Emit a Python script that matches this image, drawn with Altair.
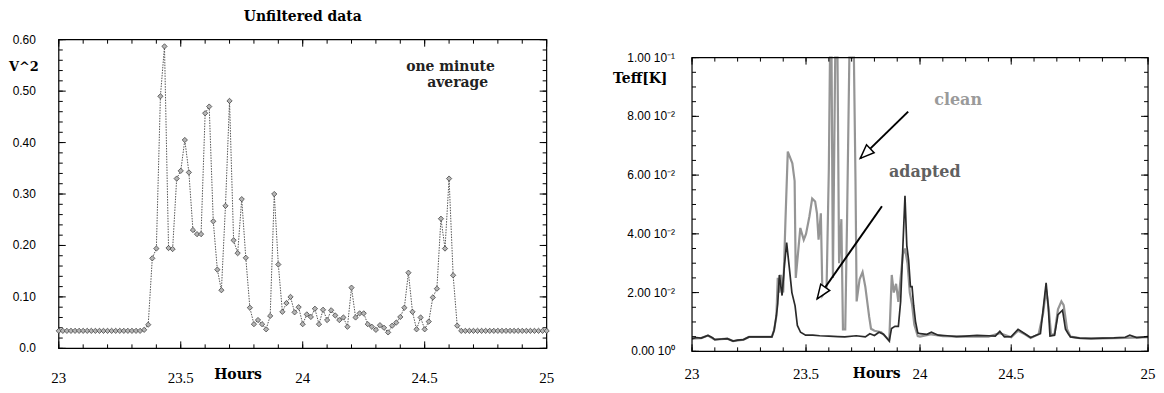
import altair as alt
import pandas as pd

# ---------------- data: left panel (one-minute averages, 23h..25h) ----------------
left_values = [
    0.034, 0.034, 0.034, 0.034, 0.034, 0.034, 0.034, 0.034, 0.034, 0.034,
    0.034, 0.034, 0.034, 0.034, 0.034, 0.034, 0.034, 0.034, 0.034, 0.034,
    0.034, 0.036, 0.046, 0.175, 0.194, 0.490, 0.587, 0.195, 0.193, 0.330,
    0.345, 0.405, 0.342, 0.230, 0.222, 0.222, 0.457, 0.470, 0.247, 0.153,
    0.113, 0.277, 0.481, 0.210, 0.185, 0.290, 0.176, 0.079, 0.047, 0.055,
    0.047, 0.037, 0.063, 0.300, 0.163, 0.071, 0.088, 0.100, 0.070, 0.080,
    0.047, 0.066, 0.061, 0.077, 0.047, 0.075, 0.055, 0.074, 0.064, 0.055,
    0.060, 0.042, 0.118, 0.060, 0.068, 0.068, 0.047, 0.042, 0.036, 0.045,
    0.040, 0.031, 0.044, 0.050, 0.061, 0.079, 0.147, 0.071, 0.037, 0.060,
    0.037, 0.052, 0.099, 0.116, 0.252, 0.194, 0.330, 0.142, 0.044, 0.034,
    0.034, 0.034, 0.034, 0.034, 0.034, 0.034, 0.034, 0.034, 0.034, 0.034,
    0.034, 0.034, 0.034, 0.034, 0.034, 0.034, 0.034, 0.034, 0.034, 0.034,
    0.034,
]
left_hours = [23 + m / 60 for m in range(len(left_values))]

# ---------------- data: right panel ----------------
adapted_hours = [
    23.00, 23.02, 23.04, 23.07, 23.09, 23.10, 23.13, 23.155, 23.18, 23.20,
    23.226, 23.25, 23.30, 23.35, 23.36, 23.37, 23.376, 23.383, 23.395, 23.405,
    23.415, 23.426, 23.438, 23.452, 23.462, 23.476, 23.498, 23.53, 23.56, 23.60,
    23.64, 23.67, 23.72, 23.76, 23.78, 23.80, 23.82, 23.84, 23.865, 23.875,
    23.89, 23.905, 23.915, 23.925, 23.934, 23.942, 23.95, 23.958, 23.965, 23.972,
    23.98, 23.99, 24.00, 24.03, 24.05, 24.08, 24.12, 24.16, 24.20, 24.25,
    24.30, 24.33, 24.35, 24.37, 24.40, 24.43, 24.46, 24.485, 24.52, 24.528,
    24.54, 24.553, 24.562, 24.57, 24.59, 24.605, 24.625, 24.638, 24.65, 24.66,
    24.70, 24.75, 24.80, 24.85, 24.90, 24.92, 24.95, 25.00,
]
adapted_values = [
    0.0043, 0.0047, 0.0045, 0.0054, 0.0046, 0.0040, 0.0042, 0.0043, 0.0035, 0.0038,
    0.0040, 0.0049, 0.0049, 0.0049, 0.0072, 0.0122, 0.0162, 0.0260, 0.0190, 0.0290,
    0.0370, 0.0290, 0.0200, 0.0155, 0.0088, 0.0065, 0.0055, 0.0055, 0.0053, 0.0052,
    0.0050, 0.0049, 0.0053, 0.0049, 0.0060, 0.0054, 0.0065, 0.0058, 0.0035, 0.0078,
    0.0085, 0.0085, 0.0170, 0.0360, 0.0530, 0.0360, 0.0310, 0.0220, 0.0220, 0.0157,
    0.0102, 0.0063, 0.0060, 0.0058, 0.0065, 0.0055, 0.0053, 0.0050, 0.0052, 0.0054,
    0.0053, 0.0052, 0.0068, 0.0049, 0.0050, 0.0075, 0.0060, 0.0047, 0.0058, 0.0060,
    0.0143, 0.0233, 0.0157, 0.0052, 0.0055, 0.0125, 0.0140, 0.0075, 0.0060, 0.0049,
    0.0045, 0.0043, 0.0045, 0.0046, 0.0048, 0.0055, 0.0047, 0.0050,
]
clean_hours = [
    23.00, 23.04, 23.07, 23.10, 23.155, 23.18, 23.226, 23.25, 23.35, 23.36,
    23.37, 23.376, 23.383, 23.39, 23.40, 23.41, 23.42, 23.44, 23.45, 23.455,
    23.462, 23.475, 23.49, 23.50, 23.515, 23.527, 23.54, 23.548, 23.555, 23.565,
    23.572, 23.59, 23.60, 23.605, 23.612, 23.618, 23.628, 23.638, 23.645, 23.655,
    23.662, 23.672, 23.68, 23.69, 23.71, 23.717, 23.722, 23.735, 23.748, 23.76,
    23.777, 23.785, 23.80, 23.83, 23.865, 23.876, 23.885, 23.895, 23.905, 23.915,
    23.925, 23.934, 23.945, 23.955, 23.965, 23.975, 23.99, 24.00, 24.05, 24.10,
    24.20, 24.30, 24.35, 24.40, 24.43, 24.46, 24.485, 24.52, 24.54, 24.553,
    24.565, 24.575, 24.59, 24.605, 24.62, 24.63, 24.645, 24.66, 24.70, 24.80,
    24.90, 25.00,
]
clean_values = [
    0.0043, 0.0045, 0.0054, 0.0040, 0.0043, 0.0035, 0.0040, 0.0049, 0.0049, 0.0072,
    0.0120, 0.0250, 0.0200, 0.0260, 0.0200, 0.0450, 0.0680, 0.0640, 0.0580, 0.0250,
    0.0310, 0.0420, 0.0380, 0.0400, 0.0460, 0.0520, 0.0510, 0.0470, 0.0380, 0.0470,
    0.0190, 0.0210, 0.0620, 0.1400, 0.1400, 0.0250, 0.1400, 0.1400, 0.0300, 0.0450,
    0.0075, 0.0075, 0.0450, 0.1400, 0.1400, 0.0580, 0.0170, 0.0245, 0.0270, 0.0220,
    0.0117, 0.0077, 0.0070, 0.0065, 0.0037, 0.0260, 0.0200, 0.0230, 0.0168, 0.0250,
    0.0330, 0.0350, 0.0300, 0.0200, 0.0160, 0.0090, 0.0052, 0.0050, 0.0058, 0.0052,
    0.0050, 0.0050, 0.0062, 0.0048, 0.0070, 0.0058, 0.0045, 0.0058, 0.0130, 0.0210,
    0.0140, 0.0055, 0.0060, 0.0143, 0.0170, 0.0157, 0.0075, 0.0050, 0.0045, 0.0044,
    0.0046, 0.0048,
]

# annotations (data coordinates)
left_note_text = ["one minute", "average"]
left_note_h = [24.606, 24.635]
left_note_v = [0.547, 0.515]

right_note_text = ["clean", "adapted"]
right_note_h = [24.167, 24.021]
right_note_v = [0.0857, 0.0609]
right_note_color = ["#9a9a9a", "#606060"]

arrow_h_from = [23.948, 23.833]
arrow_v_from = [0.0816, 0.0494]
arrow_h_to = [23.738, 23.549]
arrow_v_to = [0.0657, 0.0179]
arrow_angle = [226, 215]

# tick values and tick labels
left_x_major = [23, 23.5, 24, 24.5, 25]
left_x_labels = ["23", "23.5", "24", "24.5", "25"]
left_x_minor = [round(23 + 0.1 * k, 1) for k in range(21)]
left_y_major = [0, 0.1, 0.2, 0.3, 0.4, 0.5, 0.6]
left_y_labels = ["0.0", "0.10", "0.20", "0.30", "0.40", "0.50", "0.60"]
left_y_minor = [round(0.02 * k, 2) for k in range(31)]
right_x_major = [23, 23.5, 24, 24.4, 25]
right_x_labels = ["23", "23.5", "24", "24.5", "25"]
right_x_minor = [round(23 + 0.1 * k, 1) for k in range(21)]
right_y_major = [0, 0.02, 0.04, 0.06, 0.08, 0.1]
right_y_labels = ["0.00 10\u2070", "2.00 10\u207b\u00b2", "4.00 10\u207b\u00b2",
                  "6.00 10\u207b\u00b2", "8.00 10\u207b\u00b2", "1.00 10\u207b\u00b9"]
right_y_minor = [round(0.005 * k, 3) for k in range(21)]

SERIF_B = "DejaVu Serif"
LW, LH = 490, 310
RW, RH, RTOP = 458, 295, 18   # right panel sits RTOP px lower than the left one
RGH = RH + RTOP

left_df = pd.DataFrame({"h": left_hours, "v": left_values})
adapted_df = pd.DataFrame({"h": adapted_hours, "v": adapted_values})
clean_df = pd.DataFrame({"h": clean_hours, "v": clean_values})
left_note_df = pd.DataFrame({"t": left_note_text, "h": left_note_h, "v": left_note_v})
right_note_df = pd.DataFrame({"t": right_note_text, "h": right_note_h, "v": right_note_v,
                              "c": right_note_color})
arrow_df = pd.DataFrame({"h": arrow_h_from, "v": arrow_v_from, "h2": arrow_h_to,
                         "v2": arrow_v_to, "a": arrow_angle})
one_df = pd.DataFrame({"k": [0]})


def XY(xs, ys, xf="h", yf="v"):
    return dict(x=alt.X(f"{xf}:Q", scale=xs, axis=None), y=alt.Y(f"{yf}:Q", scale=ys, axis=None))


def frame_layers(xs, ys, dom_x, dom_y, xmaj, xmin, ymaj, ymin, w, top, bottom):
    layers = []
    box = alt.Chart(one_df).mark_rect(fill="transparent", stroke="black",
                                      strokeWidth=1.2).encode(
        x=alt.X(datum=dom_x[0], type="quantitative", scale=xs, axis=None),
        x2=alt.X2(datum=dom_x[1]),
        y=alt.Y(datum=dom_y[0], type="quantitative", scale=ys, axis=None),
        y2=alt.Y2(datum=dom_y[1]),
    )
    layers.append(box)
    for vals, size in ((xmaj, 7), (xmin, 4)):
        d = pd.DataFrame({"t": vals})
        layers.append(alt.Chart(d).mark_rule(color="black", strokeWidth=1).encode(
            x=alt.X("t:Q", scale=xs, axis=None), y=alt.value(bottom), y2=alt.value(bottom - size)))
        layers.append(alt.Chart(d).mark_rule(color="black", strokeWidth=1).encode(
            x=alt.X("t:Q", scale=xs, axis=None), y=alt.value(top), y2=alt.value(top + size)))
    for vals, size in ((ymaj, 7), (ymin, 4)):
        d = pd.DataFrame({"t": vals})
        layers.append(alt.Chart(d).mark_rule(color="black", strokeWidth=1).encode(
            y=alt.Y("t:Q", scale=ys, axis=None), x=alt.value(0), x2=alt.value(size)))
        layers.append(alt.Chart(d).mark_rule(color="black", strokeWidth=1).encode(
            y=alt.Y("t:Q", scale=ys, axis=None), x=alt.value(w), x2=alt.value(w - size)))
    return layers


def label_layers(xs, ys, xdom, ydom, xvals, xlabels, yvals, ylabels, xdy, ydx,
                 hours_h, hours_dy, ytitle, ytitle_dx, ytitle_dy, ytitle_size):
    xl = pd.DataFrame({"h": xvals, "v": [ydom[0]] * len(xvals), "s": xlabels})
    yl = pd.DataFrame({"h": [xdom[0]] * len(yvals), "v": yvals, "s": ylabels})
    tl = pd.DataFrame({"h": [hours_h], "v": [ydom[0]], "s": ["Hours"]})
    yt = pd.DataFrame({"h": [xdom[0]], "v": [ydom[1]], "s": [ytitle]})
    return [
        alt.Chart(xl).mark_text(font="Liberation Serif", fontSize=15, color="black",
                                baseline="middle", dy=xdy).encode(text="s:N", **XY(xs, ys)),
        alt.Chart(yl).mark_text(font="Liberation Sans", fontSize=12, color="black",
                                align="right", baseline="middle", dx=ydx).encode(
            text="s:N", **XY(xs, ys)),
        alt.Chart(tl).mark_text(font=SERIF_B, fontSize=14, fontWeight="bold", color="black",
                                baseline="middle", dy=hours_dy).encode(text="s:N", **XY(xs, ys)),
        alt.Chart(yt).mark_text(font=SERIF_B, fontSize=ytitle_size, fontWeight="bold",
                                color="black", baseline="middle", dx=ytitle_dx,
                                dy=ytitle_dy).encode(text="s:N", **XY(xs, ys)),
    ]


# ---------------- left panel ----------------
lxs = alt.Scale(domain=[23, 25], nice=False, zero=False)
lys = alt.Scale(domain=[0, 0.6], nice=False, zero=False)

left_line = alt.Chart(left_df).mark_line(color="#555555", strokeWidth=1,
                                         strokeDash=[1.5, 1.2]).encode(**XY(lxs, lys))
left_pts = alt.Chart(left_df).mark_point(shape="diamond", filled=True, fill="#b5b5b5",
                                         stroke="#333333", strokeWidth=0.7, size=28,
                                         opacity=1).encode(**XY(lxs, lys))
left_note = alt.Chart(left_note_df).mark_text(font=SERIF_B, fontSize=14, fontWeight="bold",
                                              color="#222222").encode(text="t:N", **XY(lxs, lys))

left = alt.layer(
    left_line,
    *frame_layers(lxs, lys, [23, 25], [0, 0.6], left_x_major, left_x_minor,
                  left_y_major, left_y_minor, LW, 0, LH),
    *label_layers(lxs, lys, [23, 25], [0, 0.6], left_x_major, left_x_labels, left_y_major,
                  left_y_labels, 30, -23, 23.735, 27, "V^2", -35, 27, 13),
    left_pts, left_note,
).properties(
    width=LW, height=LH,
    title=alt.Title("Unfiltered data", font=SERIF_B, fontSize=14, fontWeight="bold",
                    color="black", anchor="middle", offset=10),
)

# ---------------- right panel ----------------
rxs = alt.Scale(domain=[23, 25], nice=False, zero=False)
rys = alt.Scale(domain=[0, 0.1], nice=False, zero=False, range=[RGH, RTOP], clamp=True)

clean_line = alt.Chart(clean_df).mark_line(color="#959595", strokeWidth=2.2,
                                           clip=True).encode(**XY(rxs, rys))
adapted_line = alt.Chart(adapted_df).mark_line(color="#2a2a2a", strokeWidth=1.7,
                                               clip=True).encode(**XY(rxs, rys))
right_note = alt.Chart(right_note_df).mark_text(font=SERIF_B, fontSize=16,
                                                fontWeight="bold").encode(
    text="t:N", color=alt.Color("c:N", scale=None), **XY(rxs, rys))
arrow_lines = alt.Chart(arrow_df).mark_rule(color="black", strokeWidth=2).encode(
    x2="h2:Q", y2="v2:Q", **XY(rxs, rys))
arrow_heads = alt.Chart(arrow_df).mark_point(
    shape="M0,0L-1.1,2.8L1.1,2.8Z", filled=True, fill="white", stroke="black",
    strokeWidth=1.5, size=100, opacity=1).encode(
    angle=alt.Angle("a:Q", scale=None), **XY(rxs, rys, "h2", "v2"))

right = alt.layer(
    clean_line, adapted_line,
    *frame_layers(rxs, rys, [23, 25], [0, 0.1], right_x_major, right_x_minor,
                  right_y_major, right_y_minor, RW, RTOP, RGH),
    *label_layers(rxs, rys, [23, 25], [0, 0.1], right_x_major, right_x_labels, right_y_major,
                  right_y_labels, 23, -17, 23.81, 23, "Teff[K]", -52, 22, 14),
    right_note, arrow_lines, arrow_heads,
).properties(width=RW, height=RGH)

chart = alt.hconcat(left, right, spacing=58).configure_view(
    stroke="transparent"
).properties(padding=0, background="white")

chart.save("out.html", embed_options={"renderer": "svg", "actions": False})
